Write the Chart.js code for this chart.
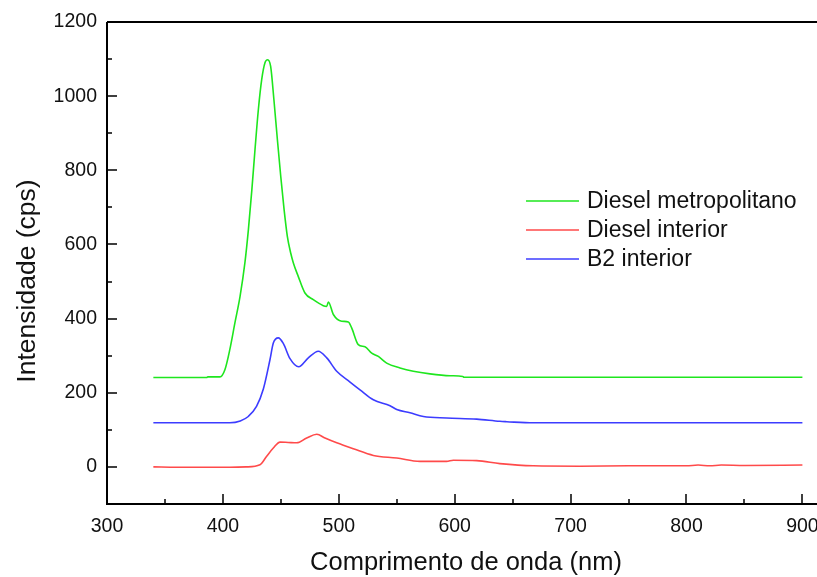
<!DOCTYPE html>
<html>
<head>
<meta charset="utf-8">
<script src="https://cdn.jsdelivr.net/npm/chart.js@4.4.0/dist/chart.umd.min.js"></script>
<style>
html,body{margin:0;padding:0;background:#fff;}
#wrap{width:817px;height:577px;position:relative;}
</style>
</head>
<body>
<div id="wrap"><canvas id="c" width="817" height="577"></canvas></div>
<script>
// Wavelength (nm) / intensity (cps) samples
const greenX = [340,386,387,397.5,401.8,406,410.4,414.8,419,422,425,427.7,430.6,433.5,436.3,438.6,441.2,444,447,449.9,452.8,455.6,458.5,460.8,465,470.8,478,486.6,489.6,491,495.3,502.5,508.2,511.1,516.8,522.6,528.4,534.1,541.3,552.8,564.3,578.7,596,607,608,650,700,750,800,850,900];
const greenY = [241,241,243,243,263,317,389,460,551,640,748,856,964,1045,1090,1098,1080,991,883,784,694,622,577,550,514,469,451,435,433,445,411,393,391,375,330,324,307,298,280,267,258,251,246,244,242,242,242,242,242,242,242];

const redX = [340,360,380,406,420,432,437.8,443.5,449.3,456.4,463.7,472.3,481,488.1,498.2,512.5,529.8,550,570,593,598.8,619,639,667.8,708,750,800,810,820,830,850,900];
const redY = [0,-1,-1,-1,0,6,29,51,67,66,65,78,88,78,65,49,31,24,15,15,18,17,9,3,2,3,3,5,3,5,4,5];

const blueX = [340,380,406,415,421.9,429,434.9,440.6,443.5,447.8,452.1,457.9,465.4,473.7,482.3,489.6,498.2,509.7,518.3,529.8,544.2,550,561.4,573,593,619,639,644.9,667.8,700,800,900];
const blueY = [119,119,119,124,136,163,210,289,334,348,333,292,270,294,312,294,258,229,208,181,165,155,146,136,132,129,123,122,119,119,119,119];

const xMajorTicks = [300,400,500,600,700,800,900];
const xMinorTicks = [350,450,550,650,750,850];
const yMajorTicks = [0,200,400,600,800,1000,1200];
const yMinorTicks = [-100,100,300,500,700,900,1100];

const seriesNames = ["Diesel metropolitano","Diesel interior","B2 interior"];
const seriesColors = ["#1ee61e","#ff4a4a","#3c3cff"];
const xTitle = "Comprimento de onda (nm)";
const yTitle = "Intensidade (cps)";

function pts(xs, ys){ return xs.map((x,i)=>({x:x,y:ys[i]})); }

const FONT = '"Liberation Sans", Arial, Helvetica, sans-serif';

const axesPlugin = {
  id:'axesPlugin',
  afterDraw(chart){
    const ctx = chart.ctx;
    const xs = chart.scales.x, ys = chart.scales.y;
    const a = chart.chartArea;
    ctx.save();
    ctx.strokeStyle = '#000';
    ctx.lineWidth = 2;
    ctx.beginPath();
    ctx.moveTo(a.left, a.top); ctx.lineTo(chart.width, a.top);
    ctx.moveTo(a.left, a.top); ctx.lineTo(a.left, a.bottom);
    ctx.moveTo(a.left-1, a.bottom); ctx.lineTo(chart.width, a.bottom);
    ctx.stroke();
    ctx.lineWidth = 1.5;
    ctx.beginPath();
    xMajorTicks.forEach(v=>{const p=Math.round(xs.getPixelForValue(v)); ctx.moveTo(p,a.bottom); ctx.lineTo(p,a.bottom-10);});
    xMinorTicks.forEach(v=>{const p=Math.round(xs.getPixelForValue(v)); ctx.moveTo(p,a.bottom); ctx.lineTo(p,a.bottom-5);});
    yMajorTicks.forEach(v=>{const p=Math.round(ys.getPixelForValue(v)); ctx.moveTo(a.left,p); ctx.lineTo(a.left+10,p);});
    yMinorTicks.forEach(v=>{const p=Math.round(ys.getPixelForValue(v)); ctx.moveTo(a.left,p); ctx.lineTo(a.left+5,p);});
    ctx.stroke();

    ctx.fillStyle = '#111';
    ctx.font = '19.5px ' + FONT;
    ctx.textAlign = 'center'; ctx.textBaseline = 'middle';
    xMajorTicks.forEach(v=>{ ctx.fillText(String(v), xs.getPixelForValue(v), 527); });
    ctx.textAlign = 'right';
    yMajorTicks.forEach(v=>{ ctx.fillText(String(v), 97, ys.getPixelForValue(v)); });

    ctx.font = '25.5px ' + FONT;
    ctx.textAlign = 'center';
    ctx.fillText(xTitle, 466, 563);
    ctx.save();
    ctx.translate(28, 281);
    ctx.rotate(-Math.PI/2);
    ctx.font = '26.5px ' + FONT;
    ctx.fillText(yTitle, 0, 0);
    ctx.restore();

    // legend
    ctx.font = '23px ' + FONT;
    ctx.textAlign = 'left';
    const rows = [201, 230, 259];
    seriesNames.forEach((n,i)=>{
      ctx.strokeStyle = seriesColors[i];
      ctx.lineWidth = 1.5;
      ctx.beginPath(); ctx.moveTo(526, rows[i]); ctx.lineTo(579, rows[i]); ctx.stroke();
      ctx.fillStyle = '#111';
      ctx.fillText(n, 587, rows[i]+1);
    });
    ctx.restore();
  }
};

const mk = (i, xs, ysArr) => ({
  label: seriesNames[i],
  data: pts(xs, ysArr),
  borderColor: seriesColors[i],
  borderWidth: 1.6,
  pointRadius: 0,
  showLine: true,
  fill: false,
  cubicInterpolationMode: 'monotone'
});

new Chart(document.getElementById('c'), {
  type: 'scatter',
  data: { datasets: [ mk(0, greenX, greenY), mk(1, redX, redY), mk(2, blueX, blueY) ] },
  options: {
    responsive: false,
    animation: false,
    devicePixelRatio: 1,
    layout: { padding: { left:107, top:22, right:0, bottom:73 } },
    plugins: { legend:{display:false}, tooltip:{enabled:false} },
    scales: {
      x: { type:'linear', min:300, max:912.6, display:false },
      y: { type:'linear', min:-100, max:1200, display:false }
    }
  },
  plugins: [axesPlugin]
});
</script>
</body>
</html>
